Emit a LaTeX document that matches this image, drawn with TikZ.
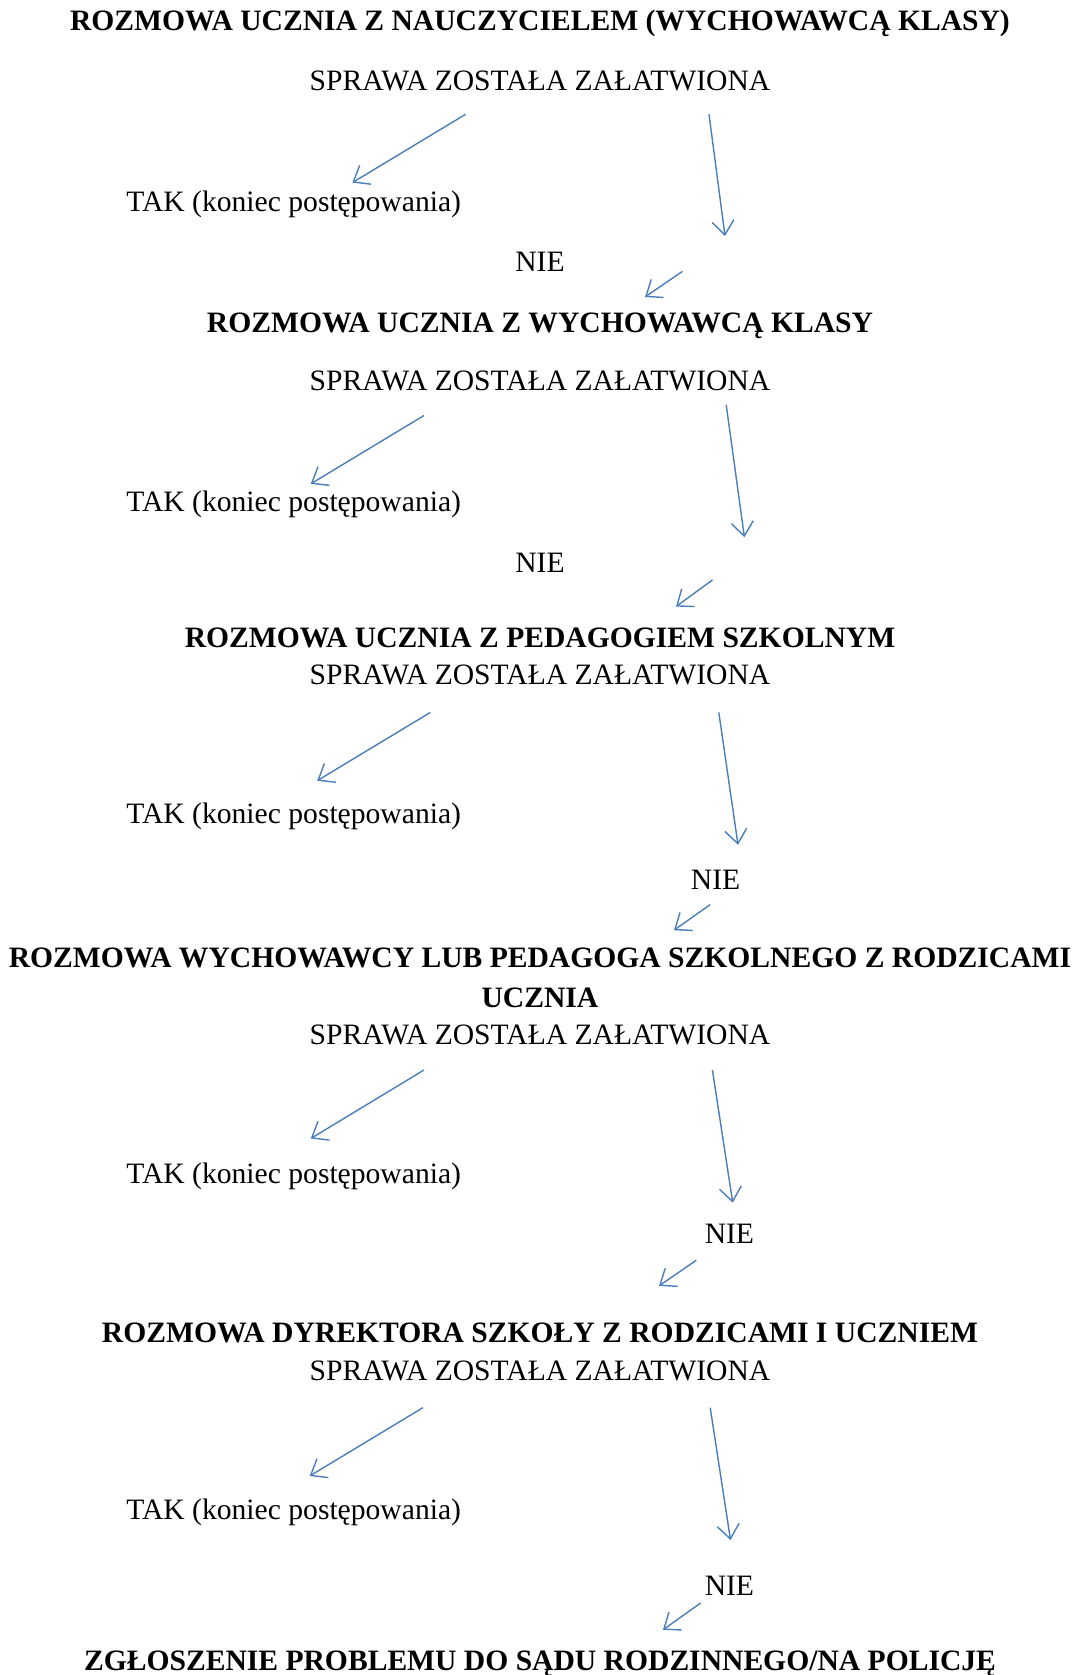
\documentclass[tikz,border=0pt]{standalone}
\usepackage{fontspec}
\setmainfont{Liberation Serif}
\usetikzlibrary{arrows.meta}

\begin{document}
\begin{tikzpicture}[
    x=0.5pt,y=-0.5pt,
    stage/.style={anchor=base,inner sep=0pt,font=\fontsize{14.8}{19.75}\selectfont\bfseries},
    txt/.style={anchor=base,inner sep=0pt,font=\fontsize{14.8}{17}\selectfont},
    flow/.style={draw=arrowblue,line width=0.7pt,-{Straight Barb[length=7pt,width=11pt]}}
  ]
    \definecolor{arrowblue}{HTML}{4A7EBB}
    \useasboundingbox (0,0) rectangle (1080,1675);

    % Stage 1
    \node[stage] (st1) at (540,31) {ROZMOWA UCZNIA Z NAUCZYCIELEM (WYCHOWAWCĄ KLASY)};
    \node[txt] (sp1) at (540,90.6) {SPRAWA ZOSTAŁA ZAŁATWIONA};
    \node[txt,anchor=base west] (tak1) at (126,211.6) {TAK (koniec postępowania)};
    \node[txt] (nie1) at (540,271.3) {NIE};
    \coordinate (l1a) at (465.6,114.3);  \coordinate (l1b) at (352.4,182.6);
    \coordinate (r1a) at (709,114.3);    \coordinate (r1b) at (725,236);
    \coordinate (n1a) at (682.5,271.3);  \coordinate (n1b) at (645,297);
    \draw[flow] (l1a) -- (l1b);
    \draw[flow] (r1a) -- (r1b);
    \draw[flow] (n1a) -- (n1b);

    % Stage 2
    \node[stage] (st2) at (540,332.1) {ROZMOWA UCZNIA Z WYCHOWAWCĄ KLASY};
    \node[txt] (sp2) at (540,390.9) {SPRAWA ZOSTAŁA ZAŁATWIONA};
    \node[txt,anchor=base west] (tak2) at (126,511.6) {TAK (koniec postępowania)};
    \node[txt] (nie2) at (540,572.4) {NIE};
    \coordinate (l2a) at (424,415.5);    \coordinate (l2b) at (310.8,483.8);
    \coordinate (r2a) at (726.2,404.8);  \coordinate (r2b) at (744.4,537.2);
    \coordinate (n2a) at (712.4,580);    \coordinate (n2b) at (676,606.6);
    \draw[flow] (l2a) -- (l2b);
    \draw[flow] (r2a) -- (r2b);
    \draw[flow] (n2a) -- (n2b);

    % Stage 3
    \node[stage] (st3) at (540,647.2) {ROZMOWA UCZNIA Z PEDAGOGIEM SZKOLNYM};
    \node[txt] (sp3) at (540,684.6) {SPRAWA ZOSTAŁA ZAŁATWIONA};
    \node[txt,anchor=base west] (tak3) at (126,823.4) {TAK (koniec postępowania)};
    \node[txt] (nie3) at (715.6,889.6) {NIE};
    \coordinate (l3a) at (430.4,712.4);  \coordinate (l3b) at (317.2,780.7);
    \coordinate (r3a) at (718.8,712.4);  \coordinate (r3b) at (738,844.8);
    \coordinate (n3a) at (710.2,904.6);  \coordinate (n3b) at (674,930.2);
    \draw[flow] (l3a) -- (l3b);
    \draw[flow] (r3a) -- (r3b);
    \draw[flow] (n3a) -- (n3b);

    % Stage 4 (title on two lines, base = last line)
    \node[stage,align=center] (st4) at (540,1007.1)
      {ROZMOWA WYCHOWAWCY LUB PEDAGOGA SZKOLNEGO Z RODZICAMI\\UCZNIA};
    \node[txt] (sp4) at (540,1044.6) {SPRAWA ZOSTAŁA ZAŁATWIONA};
    \node[txt,anchor=base west] (tak4) at (126,1183.3) {TAK (koniec postępowania)};
    \node[txt] (nie4) at (729.4,1243.1) {NIE};
    \coordinate (l4a) at (424,1070);     \coordinate (l4b) at (310.8,1138.5);
    \coordinate (r4a) at (712.4,1070);   \coordinate (r4b) at (732.7,1202.6);
    \coordinate (n4a) at (696.3,1260.2); \coordinate (n4b) at (659,1285.9);
    \draw[flow] (l4a) -- (l4b);
    \draw[flow] (r4a) -- (r4b);
    \draw[flow] (n4a) -- (n4b);

    % Stage 5
    \node[stage] (st5) at (540,1342.6) {ROZMOWA DYREKTORA SZKOŁY Z RODZICAMI I UCZNIEM};
    \node[txt] (sp5) at (540,1380.9) {SPRAWA ZOSTAŁA ZAŁATWIONA};
    \node[txt,anchor=base west] (tak5) at (126,1519.6) {TAK (koniec postępowania)};
    \node[txt] (nie5) at (729.4,1595.6) {NIE};
    \coordinate (l5a) at (423,1407.6);   \coordinate (l5b) at (309.7,1476);
    \coordinate (r5a) at (710.2,1407.6); \coordinate (r5b) at (730.5,1540);
    \coordinate (n5a) at (700.6,1603);   \coordinate (n5b) at (663,1629.8);
    \draw[flow] (l5a) -- (l5b);
    \draw[flow] (r5a) -- (r5b);
    \draw[flow] (n5a) -- (n5b);

    % Last step
    \node[stage] (st6) at (540,1670.3) {ZGŁOSZENIE PROBLEMU DO SĄDU RODZINNEGO/NA POLICJĘ};

  \end{tikzpicture}
\end{document}
